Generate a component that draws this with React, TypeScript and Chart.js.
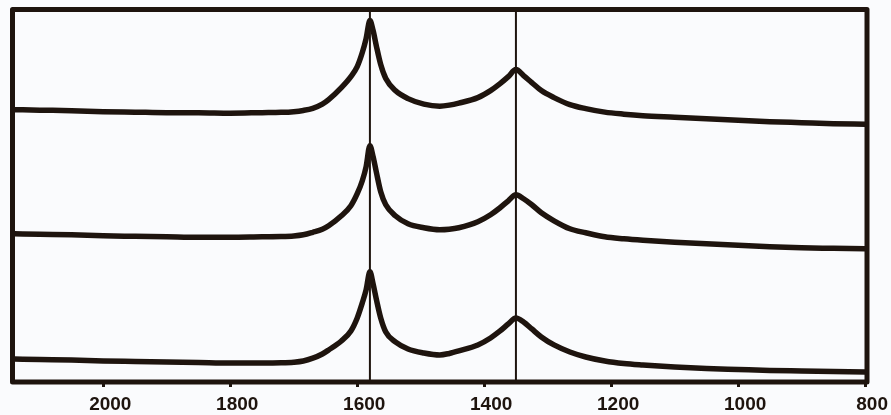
import React, { useEffect, useRef } from 'react';
import { Chart, registerables } from 'chart.js';

Chart.register(...registerables);

// Raman shift (cm^-1), descending as drawn
const wavenumbers = [
  2140, 2100, 2050, 2000, 1950, 1900, 1850, 1800, 1750, 1720, 1700, 1685, 1670, 1655, 1645,
  1625, 1610, 1600, 1592, 1586, 1580, 1575, 1570, 1563, 1555, 1540, 1520, 1495, 1470, 1455,
  1440, 1410, 1390, 1375, 1362, 1350, 1338, 1325, 1310, 1290, 1265, 1240, 1210, 1180, 1150, 1100, 1050, 1000, 950, 900, 850, 800,
];

// Offset intensities (arbitrary units)
const spectrumTop = [
  272, 271.5, 271, 270, 269.5, 269, 269, 268.5, 269, 269.3, 270, 271.2, 273.3, 277.5, 282,
  294, 305, 315, 329, 343, 361, 351, 336, 317, 303, 291, 283, 277.5, 275.5, 276.5,
  278.5, 284, 291, 298, 305, 312, 306, 299, 291, 284, 277, 273, 269.5, 267.5, 266, 264.5, 263, 261.5, 260, 259, 258, 257.5,
];
const spectrumMiddle = [
  148, 147.5, 147, 146, 145.5, 145, 144.5, 144.5, 145, 145.2, 145.8, 147, 149.5, 152.5, 156,
  166, 176, 188, 201, 215, 236, 225, 210, 190, 177, 166, 158, 154, 152, 152.5,
  154, 160, 167, 174, 181, 187, 183, 177, 169, 161, 153, 149, 145, 143, 141.5, 139.5, 138, 136.5, 135, 134, 133.5, 133,
];
const spectrumBottom = [
  23, 22.5, 22, 21, 20.5, 20, 19.5, 19, 19, 19.2, 19.8, 21, 23.8, 28, 32,
  41, 51, 64, 79, 92, 110, 98, 83, 64, 50, 40, 33, 29, 27, 28.5,
  31, 37, 44, 51, 58, 64, 60, 53, 45, 37, 30, 25, 21, 18.5, 17, 15, 13.5, 12.5, 11.5, 11, 10.5, 10,
];

const tickValues = [2000, 1800, 1600, 1400, 1200, 1000, 800];
const bandPositions = [1580, 1350];
const xRange = [797, 2143];
const yRange = [0, 372];

const INK = '#1e140e';
const BG = '#fafbfd';

const toPoints = (ys: number[]) => wavenumbers.map((w, i) => ({ x: w, y: ys[i] }));

const framePlugin = {
  id: 'ramanFrame',
  beforeDraw(chart: any) {
    const { ctx, width, height } = chart;
    ctx.save();
    ctx.fillStyle = BG;
    ctx.fillRect(0, 0, width, height);
    ctx.restore();
  },
  beforeDatasetsDraw(chart: any) {
    const { ctx, chartArea, scales } = chart;
    ctx.save();
    ctx.strokeStyle = INK;
    ctx.lineWidth = 2;
    bandPositions.forEach((b) => {
      const px = scales.x.getPixelForValue(b);
      ctx.beginPath();
      ctx.moveTo(px, chartArea.top);
      ctx.lineTo(px, chartArea.bottom);
      ctx.stroke();
    });
    ctx.restore();
  },
  afterDraw(chart: any) {
    const { ctx, chartArea } = chart;
    ctx.save();
    ctx.strokeStyle = INK;
    ctx.lineWidth = 5;
    ctx.lineJoin = 'round';
    ctx.strokeRect(chartArea.left, chartArea.top, chartArea.right - chartArea.left, chartArea.bottom - chartArea.top);
    ctx.restore();
  },
};

export default function App() {
  const canvasRef = useRef<HTMLCanvasElement | null>(null);

  useEffect(() => {
    document.body.style.margin = '0';
    const canvas = canvasRef.current;
    if (!canvas) return;
    const ds = (data: number[]) => ({
      data: toPoints(data),
      borderColor: INK,
      borderWidth: 5.5,
      pointRadius: 0,
      fill: false,
      cubicInterpolationMode: 'monotone' as const,
      borderJoinStyle: 'round' as const,
      borderCapStyle: 'round' as const,
    });
    const chart = new Chart(canvas, {
      type: 'line',
      data: {
        datasets: [ds(spectrumTop), ds(spectrumMiddle), ds(spectrumBottom)],
      },
      options: {
        animation: false,
        responsive: false,
        devicePixelRatio: 1,
        layout: { padding: { left: 12.5, right: 24, top: 9.5, bottom: 1 } },
        plugins: { legend: { display: false }, tooltip: { enabled: false } },
        scales: {
          x: {
            type: 'linear',
            reverse: true,
            min: xRange[0],
            max: xRange[1],
            afterBuildTicks: (scale: any) => {
              scale.ticks = tickValues.map((v) => ({ value: v }));
            },
            afterFit: (scale: any) => {
              scale.height = 32;
            },
            ticks: {
              color: INK,
              font: { family: "'Liberation Sans', Arial, sans-serif", size: 19, weight: 'bold', lineHeight: 1 },
              labelOffset: 7,
              padding: 8,
              maxRotation: 0,
              autoSkip: false,
              callback: (v: any) => String(v),
            },
            grid: {
              drawOnChartArea: false,
              drawTicks: true,
              tickLength: 5,
              tickWidth: 3,
              tickColor: INK,
              color: INK,
            },
            border: { display: false },
          },
          y: {
            type: 'linear',
            display: false,
            min: yRange[0],
            max: yRange[1],
          },
        },
      },
      plugins: [framePlugin],
    });
    return () => chart.destroy();
  }, []);

  return (
    <div style={{ width: 891, height: 415 }}>
      <canvas ref={canvasRef} width={891} height={415} />
    </div>
  );
}
